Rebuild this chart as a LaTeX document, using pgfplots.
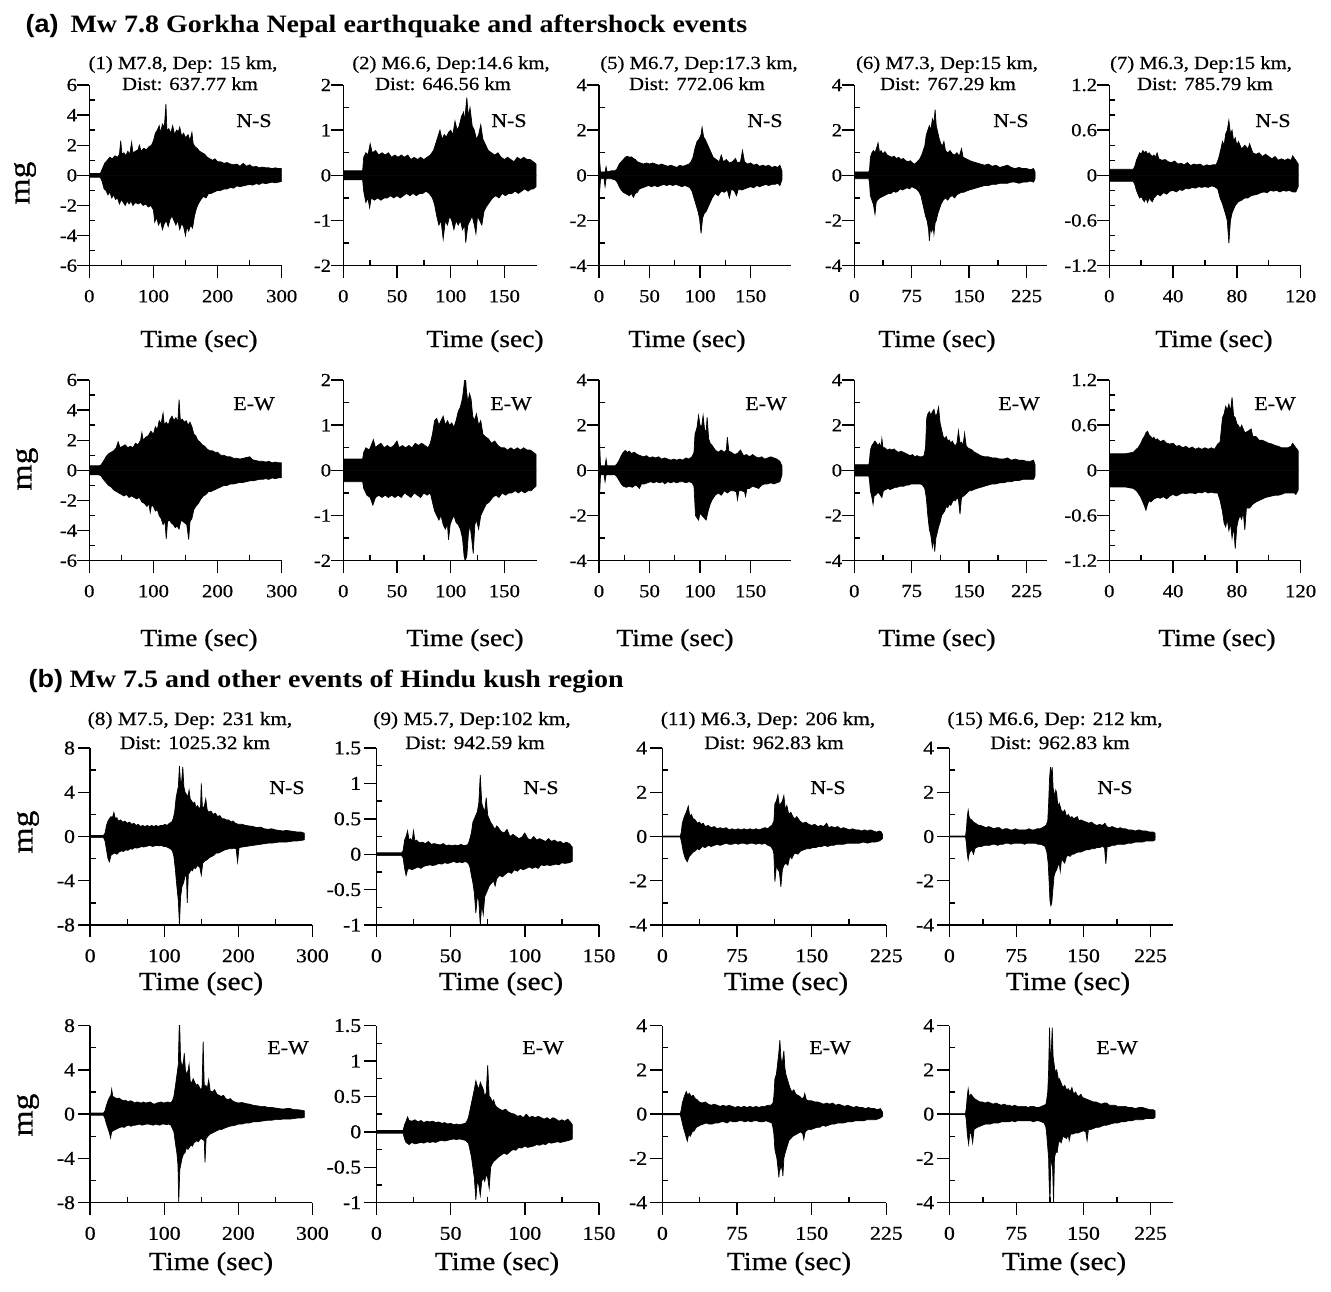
\documentclass[border=0pt]{standalone}
\usepackage{fontspec}
\setmainfont{Liberation Serif}[FakeStretch=1.12, UprightFeatures={FakeBold=0.6}]
\newfontfamily\labfont{Liberation Sans}[FakeStretch=1.08]
\usepackage{pgfplots}
\pgfplotsset{compat=1.18}

\newcommand\fs[1]{\fontsize{#1}{#1}\selectfont}

\pgfplotsset{
  seis/.style={
    scale only axis, anchor=south west,
    axis lines=left,
    axis line style={-, line width=1.4pt},
    every inner x axis line/.append style={-},
    every inner y axis line/.append style={-},
    every outer x axis line/.append style={-},
    every outer y axis line/.append style={-},
    tick style={line width=1.4pt, black},
    tick align=outside,
    major tick length=12pt,
    minor tick length=-6pt,
    minor x tick num=1, minor y tick num=1,
    xticklabel style={inner sep=0pt, yshift=-12pt},
  },
  seisA/.style={seis, height=180.7pt, ticklabel style={font=\fs{18.5}},
    yticklabel style={inner sep=0pt, xshift=0pt}},
  seisB/.style={seis, height=177pt, ticklabel style={font=\fs{19.5}},
    yticklabel style={inner sep=0pt, xshift=-3pt}},
  wave/.style={fill=black, draw=black, line width=0.7pt, line join=miter},
}

\begin{document}
\begin{tikzpicture}
\useasboundingbox (0,0) rectangle (1331pt,-1291pt);

% ---------------- (a) Gorkha, N-S ----------------
\begin{axis}[seisA, at={(89.3pt,-265.7pt)}, width=192.4pt, xmin=0, xmax=300, ymin=-6, ymax=6,
  xtick={0,100,200,300}, xticklabels={0,100,200,300},
  ytick={-6,-4,-2,0,2,4,6}, yticklabels={-6,-4,-2,0,2,4,6}]
\addplot[wave] coordinates {(0,0.12) (17,0.12) (20,0.4) (24,0.8) (28,1.0) (32,1.2) (36,1.1) (40,1.3) (44,1.2) (47,1.4) (49,2.3) (51,1.4) (54,1.5) (57,1.3) (60,1.6) (63,1.4) (66,2.2) (68,1.5) (72,1.6) (76,1.7) (78,2.0) (81,1.6) (85,1.8) (89,1.7) (93,1.9) (97,2.0) (100,2.3) (103,2.8) (106,3.0) (109,3.3) (111,2.8) (114,3.4) (117,3.2) (119.5,4.75) (121,3.0) (124,3.1) (127,2.8) (130,3.3) (133,2.7) (136,3.0) (139,2.9) (141,3.2) (144,2.6) (147,2.8) (150,2.5) (154,2.7) (157,2.3) (160,2.85) (162,2.1) (165,1.9) (168,1.8) (172,1.6) (176,1.5) (180,1.4) (184,1.2) (188,1.1) (192,1.0) (196,1.1) (200,0.9) (205,0.9) (210,0.8) (215,0.85) (220,0.75) (225,0.7) (230,0.75) (235,0.6) (240,0.8) (245,0.6) (250,0.7) (255,0.55) (260,0.6) (265,0.5) (270,0.55) (275,0.5) (280,0.5) (285,0.45) (290,0.5) (295,0.45) (300,0.45)} \closedcycle;
\addplot[wave] coordinates {(0,-0.12) (17,-0.12) (20,-0.4) (23,-0.9) (26,-1.0) (29,-1.3) (32,-1.1) (35,-1.5) (38,-1.3) (41,-1.6) (44,-1.5) (47,-1.9) (50,-1.6) (53,-1.8) (56,-2.0) (59,-1.7) (62,-1.9) (65,-1.7) (68,-2.0) (72,-1.8) (76,-1.9) (80,-1.8) (84,-2.0) (88,-1.9) (92,-2.1) (96,-2.0) (100,-2.3) (102,-3.1) (105,-2.8) (108,-3.3) (111,-3.0) (114,-3.6) (117,-3.2) (120,-3.0) (123,-3.4) (126,-2.9) (129,-2.7) (132,-3.0) (135,-3.3) (138,-3.0) (141,-3.6) (144,-3.2) (147,-3.4) (150,-4.0) (152,-3.4) (155,-3.7) (158,-3.3) (161,-3.5) (164,-2.7) (167,-2.2) (170,-1.9) (174,-1.6) (178,-1.4) (182,-1.5) (186,-1.2) (190,-1.2) (195,-1.1) (200,-1.0) (205,-1.0) (210,-0.9) (215,-0.9) (220,-0.8) (225,-0.85) (230,-0.7) (235,-0.75) (240,-0.7) (245,-0.65) (250,-0.6) (255,-0.65) (260,-0.55) (265,-0.6) (270,-0.5) (275,-0.55) (280,-0.5) (285,-0.45) (290,-0.5) (295,-0.45) (300,-0.4)} \closedcycle;
\end{axis}

\begin{axis}[seisA, at={(343.3pt,-265.7pt)}, width=193.3pt, xmin=0, xmax=180, ymin=-2, ymax=2,
  xtick={0,50,100,150}, xticklabels={0,50,100,150},
  ytick={-2,-1,0,1,2}, yticklabels={-2,-1,0,1,2}]
\addplot[wave] coordinates {(0,0.1) (18,0.1) (19,0.4) (21,0.5) (23,0.45) (25,0.7) (27,0.5) (30,0.55) (33,0.45) (36,0.5) (39,0.45) (42,0.5) (45,0.4) (48,0.45) (51,0.4) (54,0.45) (57,0.4) (60,0.45) (63,0.35) (66,0.4) (69,0.35) (72,0.4) (75,0.35) (78,0.4) (81,0.45) (84,0.55) (86,0.7) (88,0.85) (90,1.0) (92,0.8) (94,0.9) (96,0.85) (98,0.95) (100,1.0) (102,0.9) (104,1.2) (106,1.0) (108,1.1) (110,1.3) (112,1.4) (113,1.2) (115,1.72) (116.5,1.3) (118,1.5) (120,1.1) (122,1.0) (124,0.8) (126,0.9) (128,1.12) (130,0.8) (132,0.7) (135,0.55) (138,0.5) (141,0.45) (144,0.5) (147,0.4) (150,0.35) (153,0.4) (156,0.35) (159,0.3) (162,0.4) (165,0.35) (168,0.4) (171,0.35) (174,0.35) (177,0.3) (179.5,0.25)} \closedcycle;
\addplot[wave] coordinates {(0,-0.1) (18,-0.1) (19,-0.35) (21,-0.6) (23,-0.5) (24.5,-0.72) (26,-0.5) (29,-0.55) (32,-0.5) (35,-0.55) (38,-0.5) (41,-0.5) (44,-0.45) (47,-0.5) (50,-0.45) (53,-0.5) (56,-0.45) (59,-0.4) (62,-0.45) (65,-0.4) (68,-0.45) (71,-0.4) (74,-0.4) (77,-0.35) (80,-0.4) (83,-0.5) (85,-0.65) (87,-0.9) (89,-1.1) (91,-1.0) (93,-1.41) (95,-1.0) (97,-1.1) (99,-0.9) (101,-1.0) (103,-1.2) (105,-1.0) (107,-1.1) (109,-1.0) (111,-1.2) (113,-1.1) (114,-1.49) (116,-1.1) (118,-1.0) (120,-0.9) (122,-1.1) (123.5,-1.29) (125,-0.9) (127,-1.0) (129,-1.1) (131,-0.8) (133,-0.7) (136,-0.6) (139,-0.5) (142,-0.45) (145,-0.5) (148,-0.4) (151,-0.45) (154,-0.4) (157,-0.4) (160,-0.35) (163,-0.4) (166,-0.35) (169,-0.3) (172,-0.35) (175,-0.3) (177,-0.3) (179.5,-0.25)} \closedcycle;
\end{axis}

\begin{axis}[seisA, at={(599pt,-265.7pt)}, width=192pt, xmin=0, xmax=190, ymin=-4, ymax=4,
  xtick={0,50,100,150}, xticklabels={0,50,100,150},
  ytick={-4,-2,0,2,4}, yticklabels={-4,-2,0,2,4}]
\addplot[wave] coordinates {(0,0.2) (0.5,0.73) (1.5,0.15) (6,0.15) (7,0.38) (8,0.15) (12,0.2) (16,0.2) (18,0.3) (20,0.5) (22,0.6) (24,0.7) (26,0.8) (28,0.85) (30,0.8) (32,0.82) (34,0.75) (36,0.7) (38,0.6) (41,0.55) (44,0.5) (47,0.55) (50,0.5) (53,0.55) (56,0.5) (59,0.45) (62,0.5) (65,0.45) (68,0.4) (71,0.45) (74,0.4) (77,0.35) (80,0.45) (83,0.4) (86,0.45) (89,0.5) (91,0.6) (93,0.8) (95,1.2) (97,1.5) (99,1.6) (101,1.8) (102,2.13) (103.5,1.7) (105,1.6) (107,1.4) (109,1.2) (111,1.0) (113,0.8) (116,0.7) (119,0.6) (121,0.9) (123,0.6) (126,0.7) (129,0.55) (132,0.6) (135,0.75) (137,0.55) (140,0.6) (142,1.1) (144,0.6) (147,0.5) (150,0.55) (153,0.45) (156,0.5) (159,0.4) (162,0.45) (165,0.4) (168,0.45) (171,0.35) (174,0.4) (177,0.35) (179,0.45) (181,0.2)} \closedcycle;
\addplot[wave] coordinates {(0,-0.2) (0.5,-0.8) (1.5,-0.15) (5,-0.15) (6,-0.5) (7,-0.15) (12,-0.15) (16,-0.2) (18,-0.3) (20,-0.5) (22,-0.65) (24,-0.75) (26,-0.8) (28,-0.85) (30,-0.9) (32,-0.8) (34,-0.97) (36,-0.8) (38,-0.75) (40,-0.6) (43,-0.55) (46,-0.5) (49,-0.45) (52,-0.5) (55,-0.45) (58,-0.5) (61,-0.45) (64,-0.4) (67,-0.45) (70,-0.4) (73,-0.45) (76,-0.4) (79,-0.45) (82,-0.5) (85,-0.45) (88,-0.5) (90,-0.55) (92,-0.7) (94,-1.0) (96,-1.3) (98,-1.6) (99.5,-1.9) (101,-2.57) (102.5,-1.9) (104,-1.7) (106,-1.6) (108,-1.4) (110,-1.2) (112,-1.0) (115,-0.8) (118,-0.9) (121,-0.7) (124,-0.75) (127,-0.65) (129,-1.0) (131,-0.6) (134,-0.7) (136,-0.9) (138,-0.6) (141,-0.65) (144,-0.6) (147,-0.55) (150,-0.5) (153,-0.55) (156,-0.45) (159,-0.5) (162,-0.45) (165,-0.4) (168,-0.45) (171,-0.4) (174,-0.4) (177,-0.35) (179,-0.45) (181,-0.2)} \closedcycle;
\end{axis}

\begin{axis}[seisA, at={(854.3pt,-265.7pt)}, width=193pt, xmin=0, xmax=252, ymin=-4, ymax=4,
  xtick={0,75,150,225}, xticklabels={0,75,150,225},
  ytick={-4,-2,0,2,4}, yticklabels={-4,-2,0,2,4}]
\addplot[wave] coordinates {(0,0.15) (19,0.15) (20,0.3) (21,0.8) (23,1.0) (25,1.1) (27,1.0) (29,1.2) (31,1.44) (33,1.0) (35,1.1) (37,0.95) (40,1.05) (43,0.9) (46,0.85) (49,0.8) (52,0.85) (55,0.75) (58,0.8) (61,0.7) (64,0.75) (67,0.65) (70,0.6) (73,0.65) (76,0.55) (79,0.5) (82,0.6) (85,0.7) (88,0.9) (90,1.1) (92,1.3) (94,1.8) (96,2.0) (98,2.2) (100,2.0) (102,2.5) (104,2.3) (105.5,2.91) (107,2.2) (109,1.9) (111,1.6) (113,1.4) (115,1.3) (117,1.5) (119,1.1) (122,1.0) (125,1.1) (128,0.95) (131,0.9) (134,1.0) (137,0.85) (140,1.18) (142,0.8) (145,0.75) (148,0.7) (151,0.65) (155,0.6) (160,0.55) (165,0.5) (170,0.45) (175,0.5) (180,0.4) (185,0.45) (190,0.35) (195,0.4) (200,0.45) (205,0.35) (210,0.3) (215,0.35) (220,0.3) (225,0.3) (230,0.25) (234,0.3) (236,0.15)} \closedcycle;
\addplot[wave] coordinates {(0,-0.15) (19,-0.15) (20,-0.4) (21,-0.9) (23,-1.1) (25,-1.3) (27,-1.72) (28.5,-1.2) (30,-1.1) (33,-1.0) (36,-0.95) (39,-0.9) (42,-0.85) (45,-0.8) (48,-0.8) (51,-0.7) (54,-0.75) (57,-0.7) (60,-0.6) (63,-0.65) (66,-0.6) (69,-0.55) (72,-0.6) (75,-0.5) (78,-0.55) (81,-0.6) (84,-0.7) (87,-0.9) (89,-1.2) (91,-1.5) (93,-1.8) (95,-2.0) (97,-2.4) (98,-2.9) (99.5,-2.3) (101,-2.5) (103,-2.3) (104,-2.6) (105.5,-2.1) (107,-2.0) (109,-1.7) (111,-1.5) (113,-1.3) (116,-1.1) (119,-1.0) (122,-1.1) (125,-0.95) (128,-0.9) (131,-1.0) (134,-0.85) (137,-0.8) (140,-0.75) (143,-0.75) (146,-0.7) (150,-0.65) (155,-0.6) (160,-0.55) (165,-0.5) (170,-0.45) (175,-0.45) (180,-0.4) (185,-0.4) (190,-0.35) (195,-0.35) (200,-0.35) (205,-0.3) (210,-0.3) (215,-0.35) (220,-0.3) (225,-0.3) (230,-0.25) (234,-0.3) (236,-0.15)} \closedcycle;
\end{axis}

\begin{axis}[seisA, at={(1109.3pt,-265.7pt)}, width=191.3pt, xmin=0, xmax=120, ymin=-1.2, ymax=1.2,
  minor y tick num=2,
  xtick={0,40,80,120}, xticklabels={0,40,80,120},
  ytick={-1.2,-0.6,0,0.6,1.2}, yticklabels={-1.2,-0.6,0,0.6,1.2}]
\addplot[wave] coordinates {(0,0.08) (15,0.08) (16,0.12) (17,0.2) (18,0.25) (19,0.3) (20,0.28) (21,0.33) (22,0.3) (23,0.32) (24,0.28) (25,0.3) (26,0.27) (27,0.25) (28,0.27) (29,0.24) (30,0.3) (31,0.22) (33,0.2) (35,0.21) (37,0.18) (39,0.17) (41,0.19) (43,0.15) (45,0.16) (47,0.14) (49,0.17) (51,0.13) (53,0.15) (55,0.14) (57,0.15) (59,0.12) (61,0.14) (63,0.13) (65,0.14) (67,0.14) (68.5,0.22) (70,0.35) (71,0.45) (72,0.4) (73,0.55) (74,0.6) (75,0.73) (76,0.55) (77,0.6) (78,0.45) (79,0.5) (80,0.4) (81,0.45) (83,0.35) (85,0.4) (87,0.35) (88,0.42) (90,0.3) (92,0.28) (94,0.3) (96,0.25) (98,0.28) (100,0.25) (102,0.22) (104,0.25) (106,0.2) (108,0.22) (110,0.2) (112,0.22) (114,0.2) (115,0.26) (117,0.2) (118.5,0.15)} \closedcycle;
\addplot[wave] coordinates {(0,-0.08) (15,-0.08) (16,-0.12) (17,-0.2) (18,-0.25) (19,-0.3) (20,-0.28) (21,-0.32) (22,-0.35) (23,-0.3) (24,-0.36) (25,-0.3) (26,-0.33) (27,-0.35) (28,-0.3) (29,-0.28) (30,-0.25) (32,-0.27) (34,-0.23) (36,-0.25) (38,-0.21) (40,-0.2) (42,-0.22) (44,-0.19) (46,-0.2) (48,-0.17) (50,-0.18) (52,-0.16) (54,-0.17) (56,-0.15) (58,-0.16) (60,-0.15) (62,-0.16) (64,-0.14) (66,-0.15) (68,-0.18) (69.5,-0.3) (71,-0.38) (72,-0.45) (73,-0.52) (74,-0.6) (75,-0.9) (76,-0.6) (77,-0.5) (78,-0.45) (79,-0.4) (81,-0.35) (83,-0.33) (85,-0.3) (87,-0.3) (89,-0.27) (91,-0.26) (93,-0.25) (95,-0.23) (97,-0.22) (99,-0.23) (101,-0.2) (103,-0.21) (105,-0.2) (107,-0.22) (109,-0.2) (111,-0.21) (113,-0.2) (115,-0.22) (117,-0.22) (118.5,-0.15)} \closedcycle;
\end{axis}

% ---------------- (a) Gorkha, E-W ----------------
\begin{axis}[seisA, at={(89.3pt,-560.7pt)}, width=192.4pt, xmin=0, xmax=300, ymin=-6, ymax=6,
  xtick={0,100,200,300}, xticklabels={0,100,200,300},
  ytick={-6,-4,-2,0,2,4,6}, yticklabels={-6,-4,-2,0,2,4,6}]
\addplot[wave] coordinates {(0,0.3) (15,0.3) (18,0.35) (22,0.6) (26,0.9) (30,1.1) (34,1.2) (38,1.3) (42,1.5) (45,1.9) (48,1.5) (52,1.6) (56,1.7) (60,1.5) (64,1.6) (68,1.5) (72,1.8) (76,1.7) (80,2.0) (82,2.5) (84,2.0) (88,2.2) (92,2.3) (96,2.6) (100,2.4) (103,2.9) (106,2.7) (109,3.3) (112,3.1) (115,3.8) (117,3.0) (120,3.2) (123,3.0) (126,3.4) (129,3.6) (132,3.3) (135,3.5) (138,3.2) (140,4.7) (142,3.3) (145,3.4) (148,3.2) (151,3.3) (154,3.0) (157,3.2) (160,2.9) (163,2.4) (166,2.3) (169,2.0) (172,1.9) (176,1.7) (180,1.6) (184,1.4) (188,1.3) (192,1.3) (196,1.2) (200,1.2) (205,1.0) (210,1.0) (215,0.9) (220,0.9) (225,0.8) (230,0.8) (235,0.75) (240,0.8) (245,0.85) (250,0.9) (255,0.7) (260,0.65) (265,0.6) (270,0.6) (275,0.55) (280,0.6) (285,0.5) (290,0.55) (295,0.5) (300,0.5)} \closedcycle;
\addplot[wave] coordinates {(0,-0.3) (15,-0.3) (18,-0.35) (22,-0.6) (26,-0.8) (30,-1.0) (34,-1.1) (38,-1.3) (42,-1.4) (46,-1.5) (50,-1.6) (54,-1.7) (58,-1.6) (62,-1.8) (66,-1.7) (70,-1.8) (74,-1.9) (78,-1.8) (82,-2.1) (86,-2.2) (90,-2.4) (93,-2.2) (95,-2.8) (97,-2.3) (100,-2.4) (103,-2.7) (106,-2.6) (109,-3.0) (112,-3.2) (115,-3.6) (118,-3.4) (120,-4.55) (122,-3.4) (125,-3.3) (128,-3.5) (131,-3.6) (134,-3.8) (137,-3.7) (140,-3.9) (143,-3.3) (146,-3.4) (149,-3.5) (152,-3.6) (155,-4.6) (157,-3.4) (160,-3.2) (163,-2.6) (166,-2.4) (170,-2.2) (174,-1.9) (178,-1.7) (182,-1.6) (186,-1.4) (190,-1.4) (195,-1.3) (200,-1.2) (205,-1.1) (210,-1.0) (215,-1.0) (220,-0.9) (225,-0.9) (230,-0.85) (235,-0.8) (240,-0.8) (245,-0.75) (250,-0.7) (255,-0.7) (260,-0.65) (265,-0.6) (270,-0.6) (275,-0.55) (280,-0.6) (285,-0.5) (290,-0.55) (295,-0.5) (300,-0.5)} \closedcycle;
\end{axis}

\begin{axis}[seisA, at={(343.3pt,-560.7pt)}, width=193.3pt, xmin=0, xmax=180, ymin=-2, ymax=2,
  xtick={0,50,100,150}, xticklabels={0,50,100,150},
  ytick={-2,-1,0,1,2}, yticklabels={-2,-1,0,1,2}]
\addplot[wave] coordinates {(0,0.25) (18,0.25) (19,0.4) (21,0.5) (24,0.45) (26,0.55) (28,0.68) (30,0.5) (32,0.55) (35,0.6) (38,0.5) (41,0.55) (44,0.5) (47,0.55) (50,0.65) (52,0.5) (55,0.55) (58,0.5) (61,0.55) (64,0.5) (67,0.6) (70,0.55) (73,0.6) (76,0.55) (79,0.5) (81,0.6) (83,0.8) (85,1.1) (87,1.15) (89,1.0) (91,1.1) (93,1.2) (95,1.0) (97,1.1) (99,1.0) (101,1.05) (103,0.95) (105,1.1) (107,1.3) (109,1.4) (111,1.6) (112.5,1.9) (113.5,2.25) (114.5,1.8) (116,1.5) (117.5,1.7) (119,1.58) (120.5,1.2) (122,1.1) (124,1.25) (126,1.0) (128,1.1) (130,0.8) (132,0.75) (135,0.7) (138,0.6) (141,0.65) (144,0.55) (147,0.5) (150,0.5) (153,0.45) (156,0.5) (159,0.45) (162,0.5) (165,0.45) (168,0.5) (171,0.45) (174,0.45) (177,0.4) (179.5,0.35)} \closedcycle;
\addplot[wave] coordinates {(0,-0.25) (18,-0.25) (19,-0.4) (22,-0.55) (25,-0.6) (27.5,-0.77) (30,-0.6) (33,-0.55) (36,-0.6) (39,-0.55) (42,-0.6) (45,-0.55) (48,-0.6) (51,-0.55) (54,-0.6) (57,-0.5) (60,-0.55) (63,-0.6) (66,-0.5) (69,-0.55) (72,-0.6) (75,-0.5) (78,-0.55) (81,-0.5) (83,-0.7) (85,-0.9) (87,-1.0) (89,-1.1) (91,-1.0) (93,-1.2) (95,-1.3) (97,-1.2) (98,-1.54) (99.5,-1.2) (101,-1.1) (103,-1.0) (105,-1.15) (107,-1.2) (109,-1.3) (111,-1.5) (112.5,-1.9) (113.5,-2.0) (115,-1.9) (116.5,-1.4) (118,-1.2) (119.5,-1.5) (121,-1.84) (122.5,-1.2) (124,-1.1) (126,-1.3) (128,-1.0) (130,-0.9) (133,-0.75) (136,-0.7) (139,-0.6) (142,-0.55) (145,-0.6) (148,-0.5) (151,-0.55) (154,-0.5) (157,-0.5) (160,-0.45) (163,-0.5) (166,-0.45) (169,-0.5) (172,-0.45) (175,-0.45) (177,-0.4) (179.5,-0.35)} \closedcycle;
\end{axis}

\begin{axis}[seisA, at={(599pt,-560.7pt)}, width=192pt, xmin=0, xmax=190, ymin=-4, ymax=4,
  xtick={0,50,100,150}, xticklabels={0,50,100,150},
  ytick={-4,-2,0,2,4}, yticklabels={-4,-2,0,2,4}]
\addplot[wave] coordinates {(0,0.2) (0.5,1.32) (1.5,0.2) (6,0.2) (7,0.5) (8,0.2) (12,0.2) (16,0.2) (18,0.3) (20,0.45) (22,0.65) (24,0.8) (26,0.88) (28,0.8) (30,0.85) (32,0.75) (35,0.8) (38,0.7) (41,0.65) (44,0.6) (47,0.65) (50,0.55) (53,0.6) (56,0.55) (59,0.6) (62,0.5) (65,0.55) (68,0.5) (71,0.45) (74,0.5) (77,0.45) (80,0.5) (83,0.45) (86,0.55) (89,0.5) (92,0.6) (94,0.8) (95,1.6) (97,1.9) (98.5,2.43) (100,2.0) (101.5,1.9) (103,2.43) (104.5,1.8) (106,1.7) (107,2.35) (108.5,1.4) (110,1.2) (112,1.1) (115,0.9) (118,0.8) (121,0.9) (124,0.8) (126,0.9) (127,1.47) (128.5,0.85) (131,0.8) (134,0.7) (137,0.75) (140,0.9) (143,0.65) (146,0.7) (149,0.6) (152,0.7) (155,0.6) (158,0.55) (161,0.6) (164,0.5) (167,0.55) (170,0.6) (173,0.55) (176,0.5) (179,0.4) (181,0.2)} \closedcycle;
\addplot[wave] coordinates {(0,-0.2) (0.5,-1.2) (1.5,-0.2) (5,-0.2) (6,-0.5) (7,-0.2) (12,-0.2) (16,-0.2) (18,-0.3) (20,-0.45) (22,-0.6) (24,-0.7) (27,-0.75) (30,-0.7) (33,-0.75) (36,-0.65) (38,-0.7) (40,-0.8) (42,-0.6) (45,-0.6) (48,-0.55) (51,-0.5) (54,-0.55) (57,-0.5) (60,-0.55) (63,-0.5) (65,-0.6) (68,-0.5) (71,-0.55) (74,-0.5) (77,-0.55) (80,-0.5) (83,-0.5) (86,-0.55) (89,-0.5) (92,-0.55) (94,-0.7) (95.5,-2.0) (97,-2.1) (98.5,-2.2) (100,-1.9) (102,-2.0) (104,-2.1) (106,-2.2) (108,-1.8) (110,-1.5) (112,-1.3) (115,-1.1) (118,-1.0) (121,-1.1) (124,-0.9) (127,-1.0) (130,-0.9) (133,-0.9) (136,-0.95) (137,-1.3) (138.5,-0.9) (141,-0.9) (144,-0.95) (145,-1.15) (146.5,-0.8) (149,-0.8) (152,-0.7) (155,-0.75) (158,-0.8) (161,-0.65) (164,-0.6) (167,-0.6) (170,-0.55) (173,-0.6) (176,-0.55) (179,-0.5) (181,-0.2)} \closedcycle;
\end{axis}

\begin{axis}[seisA, at={(854.3pt,-560.7pt)}, width=193pt, xmin=0, xmax=252, ymin=-4, ymax=4,
  xtick={0,75,150,225}, xticklabels={0,75,150,225},
  ytick={-4,-2,0,2,4}, yticklabels={-4,-2,0,2,4}]
\addplot[wave] coordinates {(0,0.25) (19,0.25) (20,0.5) (21,0.9) (23,1.1) (25,1.2) (27,1.3) (29,1.2) (31,1.1) (33,1.2) (35,1.0) (36,1.4) (37.5,1.0) (40,1.0) (43,0.9) (46,0.95) (49,0.9) (52,0.95) (55,0.85) (58,0.8) (61,0.85) (64,0.8) (67,0.75) (70,0.7) (73,0.65) (76,0.7) (79,0.6) (82,0.65) (85,0.6) (88,0.6) (91,0.65) (93,1.0) (94.5,2.3) (96,2.5) (98,2.6) (100,2.45) (102,2.6) (104,2.7) (106,2.4) (108,2.5) (110,2.8) (112,2.1) (114,1.8) (116,1.5) (118,1.4) (120,1.5) (122,1.3) (124,1.35) (126,1.2) (128,1.3) (130,1.15) (132,1.1) (134,1.2) (136,1.75) (138,1.2) (140,1.25) (142,1.1) (144,1.65) (146,1.1) (148,1.0) (151,0.95) (154,0.9) (157,0.8) (160,0.75) (165,0.65) (170,0.6) (175,0.6) (180,0.55) (185,0.55) (190,0.5) (195,0.5) (200,0.55) (205,0.45) (210,0.5) (215,0.45) (220,0.45) (225,0.4) (230,0.4) (234,0.45) (236,0.25)} \closedcycle;
\addplot[wave] coordinates {(0,-0.25) (19,-0.25) (20,-0.5) (21,-0.9) (23,-1.2) (24.5,-1.5) (26,-1.1) (28,-1.1) (30,-1.0) (32,-1.0) (34,-1.1) (36,-1.2) (38,-0.9) (41,-0.85) (44,-0.8) (47,-0.85) (50,-0.8) (53,-0.75) (56,-0.75) (59,-0.7) (62,-0.7) (65,-0.7) (68,-0.65) (71,-0.65) (74,-0.6) (77,-0.6) (80,-0.6) (83,-0.6) (86,-0.6) (89,-0.65) (92,-0.8) (94,-1.2) (96,-2.0) (98,-2.6) (100,-2.9) (102,-3.4) (103.5,-3.0) (105,-3.6) (106.5,-3.0) (108,-2.8) (110,-2.5) (112,-2.3) (114,-2.0) (116,-1.9) (118,-1.8) (120,-1.6) (122,-1.65) (124,-1.5) (126,-1.55) (128,-1.4) (130,-1.3) (132,-1.35) (134,-1.2) (136,-1.3) (138,-1.94) (140,-1.2) (142,-1.15) (144,-1.1) (147,-1.0) (150,-0.9) (153,-0.9) (156,-0.85) (160,-0.8) (165,-0.75) (170,-0.7) (175,-0.65) (180,-0.6) (185,-0.6) (190,-0.55) (195,-0.55) (200,-0.5) (205,-0.5) (210,-0.45) (215,-0.45) (220,-0.4) (225,-0.4) (230,-0.4) (234,-0.4) (236,-0.25)} \closedcycle;
\end{axis}

\begin{axis}[seisA, at={(1109.3pt,-560.7pt)}, width=191.3pt, xmin=0, xmax=120, ymin=-1.2, ymax=1.2,
  minor y tick num=2,
  xtick={0,40,80,120}, xticklabels={0,40,80,120},
  ytick={-1.2,-0.6,0,0.6,1.2}, yticklabels={-1.2,-0.6,0,0.6,1.2}]
\addplot[wave] coordinates {(0,0.22) (10,0.22) (15,0.24) (17,0.28) (18,0.3) (19,0.33) (20,0.37) (21,0.42) (22,0.45) (23,0.5) (24,0.52) (25,0.47) (26,0.45) (27,0.42) (28,0.44) (29,0.4) (30,0.42) (32,0.38) (34,0.4) (36,0.36) (38,0.35) (40,0.36) (42,0.32) (44,0.33) (46,0.3) (48,0.32) (50,0.29) (52,0.31) (54,0.28) (56,0.3) (58,0.28) (60,0.3) (62,0.28) (64,0.3) (66,0.28) (68,0.35) (69.5,0.38) (71,0.7) (72,0.75) (73,0.85) (74,0.8) (75,0.88) (76,0.78) (77,0.97) (78,0.72) (79,0.7) (80,0.62) (81,0.6) (82,0.55) (83,0.6) (85,0.5) (87,0.52) (89,0.55) (90,0.45) (92,0.45) (94,0.4) (96,0.4) (98,0.38) (100,0.36) (102,0.35) (104,0.33) (106,0.32) (108,0.3) (110,0.3) (112,0.3) (114,0.32) (115,0.36) (117,0.3) (118.5,0.26)} \closedcycle;
\addplot[wave] coordinates {(0,-0.22) (10,-0.22) (15,-0.24) (17,-0.27) (18,-0.3) (19,-0.33) (20,-0.37) (21,-0.42) (22,-0.47) (23,-0.53) (24,-0.45) (25,-0.4) (26,-0.42) (28,-0.38) (30,-0.36) (32,-0.37) (34,-0.35) (36,-0.38) (38,-0.34) (40,-0.32) (42,-0.34) (44,-0.32) (46,-0.3) (48,-0.31) (50,-0.3) (52,-0.3) (54,-0.31) (56,-0.29) (58,-0.3) (60,-0.28) (62,-0.3) (64,-0.29) (66,-0.3) (68,-0.3) (69.5,-0.4) (71,-0.55) (72,-0.7) (73,-0.75) (74,-0.65) (75,-0.8) (76,-0.7) (77,-0.9) (78,-0.75) (79,-1.04) (80,-0.75) (81,-0.65) (82,-0.6) (83,-0.65) (84,-0.55) (85,-0.79) (86,-0.5) (88,-0.5) (90,-0.45) (92,-0.42) (94,-0.4) (96,-0.38) (98,-0.36) (100,-0.35) (102,-0.34) (104,-0.33) (106,-0.33) (108,-0.32) (110,-0.3) (112,-0.3) (114,-0.3) (116,-0.3) (117,-0.32) (118.5,-0.26)} \closedcycle;
\end{axis}

% ---------------- (b) Hindu Kush, N-S ----------------
\begin{axis}[seisB, at={(90.2pt,-925pt)}, width=222.2pt, xmin=0, xmax=300, ymin=-8, ymax=8,
  xtick={0,100,200,300}, xticklabels={0,100,200,300},
  ytick={-8,-4,0,4,8}, yticklabels={-8,-4,0,4,8}]
\addplot[wave] coordinates {(0,0.1) (18,0.1) (20,0.3) (22,1.0) (24,1.4) (26,1.6) (28,1.8) (30,1.7) (32,2.18) (34,1.6) (36,1.7) (38,1.4) (41,1.5) (44,1.3) (47,1.4) (50,1.2) (53,1.3) (56,1.1) (59,1.2) (62,1.0) (65,1.1) (68,0.9) (71,1.0) (74,0.9) (77,1.0) (80,0.9) (83,1.0) (86,0.9) (89,1.0) (92,0.9) (95,1.0) (98,1.0) (101,1.1) (104,1.0) (107,1.2) (110,1.3) (112,1.6) (114,2.2) (116,3.5) (118,4.2) (119,4.5) (120.5,6.36) (122,4.8) (123.5,5.0) (125,6.3) (126.5,4.5) (128,4.0) (130,3.8) (132,3.6) (133.5,4.2) (135,3.4) (137,3.2) (139,3.0) (141,3.1) (143,2.6) (145,2.8) (147,2.5) (149,2.7) (150,4.8) (151.5,2.6) (154,2.7) (156,3.4) (158,2.4) (160,2.2) (163,2.3) (166,2.0) (169,2.1) (172,1.8) (175,1.9) (178,1.6) (181,1.6) (184,1.5) (187,1.5) (190,1.3) (193,1.4) (196,1.2) (200,1.1) (205,1.1) (210,1.0) (215,0.95) (220,0.9) (225,0.8) (230,0.85) (235,0.7) (240,0.65) (245,0.7) (250,0.6) (255,0.55) (260,0.5) (265,0.55) (270,0.5) (275,0.45) (280,0.4) (285,0.4) (289,0.3)} \closedcycle;
\addplot[wave] coordinates {(0,-0.1) (18,-0.1) (20,-0.4) (22,-1.2) (24,-2.0) (26,-2.28) (28,-1.7) (30,-1.6) (33,-1.5) (36,-1.6) (39,-1.4) (42,-1.3) (45,-1.35) (48,-1.2) (51,-1.25) (54,-1.1) (57,-1.15) (60,-1.0) (63,-1.05) (66,-1.0) (69,-0.9) (72,-0.95) (75,-0.9) (78,-0.85) (81,-0.8) (84,-0.9) (87,-0.85) (90,-0.8) (93,-0.85) (96,-0.8) (99,-0.9) (102,-0.9) (105,-1.0) (108,-1.1) (111,-1.3) (113,-1.8) (115,-3.0) (117,-4.5) (119,-5.8) (120.5,-8.0) (122,-5.5) (124,-4.5) (126,-4.2) (128,-3.6) (130,-3.5) (131,-6.0) (132.5,-3.4) (134,-3.3) (136,-3.0) (138,-3.1) (140,-2.8) (142,-2.9) (145,-2.6) (148,-2.8) (150,-3.5) (152,-2.4) (155,-2.2) (158,-2.1) (161,-1.9) (164,-1.8) (167,-1.7) (170,-1.5) (173,-1.5) (176,-1.4) (179,-1.3) (182,-1.2) (185,-1.15) (188,-1.1) (191,-1.1) (194,-1.05) (197,-1.1) (199,-2.3) (201,-1.0) (205,-0.95) (210,-0.9) (215,-0.85) (220,-0.8) (225,-0.75) (230,-0.7) (235,-0.65) (240,-0.6) (245,-0.6) (250,-0.55) (255,-0.5) (260,-0.5) (265,-0.5) (270,-0.45) (275,-0.4) (280,-0.4) (285,-0.35) (289,-0.3)} \closedcycle;
\end{axis}

\begin{axis}[seisB, at={(376.4pt,-925pt)}, width=222.6pt, xmin=0, xmax=150, ymin=-1, ymax=1.5,
  xtick={0,50,100,150}, xticklabels={0,50,100,150},
  ytick={-1,-0.5,0,0.5,1,1.5}, yticklabels={-1,-0.5,0,0.5,1,1.5}]
\addplot[wave] coordinates {(0,0.02) (17,0.02) (18,0.05) (19,0.2) (20,0.25) (21,0.33) (22,0.2) (23,0.22) (24,0.18) (25,0.33) (26,0.18) (27,0.2) (29,0.16) (31,0.17) (33,0.15) (35,0.18) (37,0.14) (39,0.15) (41,0.14) (43,0.13) (45,0.15) (47,0.12) (49,0.13) (51,0.12) (53,0.13) (55,0.12) (57,0.14) (59,0.12) (61,0.13) (62,0.15) (63,0.22) (64,0.3) (65,0.45) (66,0.5) (67,0.55) (68,0.6) (69,0.72) (70,1.12) (71,0.72) (72,0.65) (73,0.6) (74,0.8) (75,0.55) (76,0.5) (77,0.45) (78,0.42) (79,0.38) (80,0.35) (81,0.4) (82,0.38) (84,0.32) (86,0.3) (88,0.35) (90,0.25) (92,0.28) (94,0.25) (96,0.22) (98,0.24) (100,0.3) (102,0.22) (104,0.2) (106,0.25) (108,0.2) (110,0.22) (112,0.2) (114,0.18) (116,0.22) (118,0.18) (120,0.2) (122,0.17) (124,0.18) (126,0.15) (128,0.17) (130,0.15) (132,0.1)} \closedcycle;
\addplot[wave] coordinates {(0,-0.02) (17,-0.02) (18,-0.05) (19,-0.2) (20,-0.3) (21,-0.22) (22,-0.2) (24,-0.22) (26,-0.2) (28,-0.18) (30,-0.2) (32,-0.17) (34,-0.16) (36,-0.15) (38,-0.16) (40,-0.15) (42,-0.13) (44,-0.14) (46,-0.12) (48,-0.13) (50,-0.12) (52,-0.1) (54,-0.12) (56,-0.11) (58,-0.12) (60,-0.1) (62,-0.13) (63,-0.18) (64,-0.3) (65,-0.4) (66,-0.55) (67,-0.83) (68,-0.6) (69,-0.65) (70,-1.0) (71,-0.7) (72,-0.85) (73,-0.6) (74,-0.55) (75,-0.5) (76,-0.45) (77,-0.42) (78,-0.4) (79,-0.38) (80,-0.45) (81,-0.35) (83,-0.3) (85,-0.32) (87,-0.28) (89,-0.25) (91,-0.27) (93,-0.22) (95,-0.24) (97,-0.2) (99,-0.22) (101,-0.2) (103,-0.18) (105,-0.2) (107,-0.18) (109,-0.2) (111,-0.15) (113,-0.16) (115,-0.15) (117,-0.16) (119,-0.15) (121,-0.14) (123,-0.15) (125,-0.12) (127,-0.13) (130,-0.12) (132,-0.1)} \closedcycle;
\end{axis}

\begin{axis}[seisB, at={(662.4pt,-925pt)}, width=224pt, xmin=0, xmax=225, ymin=-4, ymax=4,
  xtick={0,75,150,225}, xticklabels={0,75,150,225},
  ytick={-4,-2,0,2,4}, yticklabels={-4,-2,0,2,4}]
\addplot[wave] coordinates {(0,0.02) (18,0.02) (19,0.2) (20,0.6) (22,0.9) (24,1.1) (26,1.37) (27.5,0.9) (29,1.0) (31,0.8) (33,0.75) (35,0.6) (37,0.65) (39,0.55) (41,0.6) (43,0.45) (46,0.5) (49,0.4) (52,0.45) (55,0.35) (58,0.4) (61,0.35) (64,0.4) (67,0.3) (70,0.35) (73,0.3) (76,0.35) (79,0.3) (82,0.35) (85,0.3) (88,0.35) (91,0.3) (94,0.35) (97,0.3) (100,0.35) (103,0.4) (106,0.35) (108,0.45) (110,0.5) (112,0.7) (113,1.5) (114.5,1.6) (116,1.89) (117.5,1.4) (119,1.5) (120.5,1.6) (122,1.85) (123.5,1.2) (125,1.4) (127,1.0) (129,1.1) (131,0.9) (133,0.8) (135,0.9) (138,0.7) (141,0.6) (144,0.65) (147,0.55) (150,0.5) (153,0.55) (156,0.45) (159,0.5) (162,0.45) (165,0.6) (167,0.4) (170,0.45) (173,0.4) (176,0.45) (179,0.35) (182,0.4) (185,0.35) (188,0.3) (191,0.35) (194,0.3) (197,0.3) (200,0.25) (203,0.3) (206,0.25) (209,0.3) (212,0.25) (215,0.2) (218,0.25) (220,0.2) (221,0.1)} \closedcycle;
\addplot[wave] coordinates {(0,-0.02) (18,-0.02) (19,-0.2) (21,-0.7) (23,-1.0) (25,-1.14) (27,-0.9) (29,-0.8) (31,-0.7) (33,-0.65) (35,-0.55) (37,-0.6) (40,-0.45) (43,-0.5) (46,-0.4) (49,-0.45) (52,-0.4) (55,-0.35) (58,-0.4) (61,-0.35) (64,-0.3) (67,-0.35) (70,-0.35) (73,-0.3) (76,-0.35) (79,-0.3) (82,-0.3) (85,-0.35) (88,-0.3) (91,-0.3) (94,-0.35) (97,-0.3) (100,-0.35) (103,-0.3) (106,-0.4) (109,-0.45) (111,-0.6) (112,-0.8) (113,-2.04) (114.5,-1.3) (116,-1.5) (117.5,-1.6) (119,-2.27) (120.5,-1.5) (122,-1.3) (124,-1.2) (126,-1.3) (128,-0.9) (130,-1.0) (132,-0.8) (134,-0.75) (136,-0.8) (139,-0.65) (142,-0.6) (145,-0.55) (148,-0.55) (151,-0.5) (154,-0.5) (157,-0.45) (160,-0.45) (163,-0.4) (166,-0.45) (169,-0.4) (172,-0.4) (175,-0.35) (178,-0.35) (182,-0.35) (186,-0.3) (190,-0.3) (194,-0.3) (198,-0.3) (202,-0.25) (206,-0.3) (210,-0.25) (214,-0.25) (218,-0.2) (221,-0.1)} \closedcycle;
\end{axis}

\begin{axis}[seisB, at={(949.4pt,-925pt)}, width=223.5pt, xmin=0, xmax=250, ymin=-4, ymax=4,
  xtick={0,75,150,225}, xticklabels={0,75,150,225},
  ytick={-4,-2,0,2,4}, yticklabels={-4,-2,0,2,4}]
\addplot[wave] coordinates {(0,0.02) (18,0.02) (19,0.3) (20,0.9) (21,1.19) (22,0.9) (23,0.8) (25,0.75) (27,0.65) (29,0.6) (31,0.55) (33,0.5) (35,0.5) (38,0.45) (41,0.4) (44,0.45) (47,0.4) (50,0.35) (53,0.4) (56,0.4) (59,0.3) (62,0.35) (65,0.35) (68,0.3) (71,0.3) (74,0.35) (77,0.3) (80,0.3) (83,0.3) (86,0.3) (89,0.35) (92,0.3) (95,0.3) (98,0.35) (101,0.35) (104,0.4) (106,0.45) (108,0.5) (110,0.7) (111,1.5) (112,2.6) (113,3.13) (114,2.8) (115,3.13) (116,2.2) (117,2.0) (118,1.8) (119,2.1) (120,1.97) (121,1.5) (122,1.4) (123,1.5) (125,1.2) (127,1.1) (129,1.2) (131,0.9) (133,1.0) (135,0.85) (137,0.9) (139,0.8) (141,0.85) (143,0.9) (145,0.7) (147,0.75) (150,0.7) (153,0.65) (156,0.6) (159,0.65) (162,0.55) (165,0.5) (168,0.55) (171,0.5) (174,0.6) (176,0.45) (179,0.4) (182,0.45) (185,0.4) (188,0.35) (191,0.4) (194,0.35) (197,0.35) (200,0.3) (204,0.3) (208,0.25) (212,0.3) (216,0.25) (220,0.25) (224,0.2) (228,0.2) (230,0.15)} \closedcycle;
\addplot[wave] coordinates {(0,-0.02) (18,-0.02) (19,-0.3) (20,-0.8) (21,-1.06) (22,-0.8) (23,-0.7) (25,-0.6) (27,-0.8) (28.5,-0.55) (30,-0.5) (33,-0.45) (36,-0.45) (39,-0.4) (42,-0.4) (45,-0.4) (48,-0.35) (51,-0.35) (54,-0.4) (57,-0.35) (60,-0.35) (63,-0.3) (66,-0.3) (69,-0.35) (72,-0.3) (75,-0.3) (78,-0.3) (81,-0.3) (84,-0.35) (87,-0.3) (90,-0.3) (93,-0.3) (96,-0.3) (99,-0.35) (102,-0.35) (105,-0.4) (107,-0.45) (109,-0.7) (110.5,-1.2) (111.5,-2.0) (112.5,-2.9) (113.5,-3.13) (114.5,-3.0) (115.5,-2.5) (117,-1.8) (118.5,-1.6) (120,-1.5) (121.5,-1.3) (123,-1.25) (124,-1.58) (125.5,-1.0) (127,-1.1) (129,-1.2) (131,-0.9) (133,-0.85) (135,-0.9) (137,-0.8) (139,-0.8) (141,-0.75) (144,-0.7) (147,-0.7) (150,-0.65) (153,-0.6) (156,-0.6) (159,-0.55) (162,-0.55) (165,-0.5) (168,-0.5) (171,-0.45) (173.5,-0.5) (175,-1.23) (176.5,-0.45) (179,-0.45) (182,-0.4) (185,-0.4) (188,-0.35) (192,-0.35) (196,-0.35) (200,-0.3) (204,-0.3) (208,-0.25) (212,-0.25) (216,-0.25) (220,-0.2) (224,-0.2) (228,-0.2) (230,-0.15)} \closedcycle;
\end{axis}

% ---------------- (b) Hindu Kush, E-W ----------------
\begin{axis}[seisB, at={(90.2pt,-1202.6pt)}, width=222.2pt, xmin=0, xmax=300, ymin=-8, ymax=8,
  xtick={0,100,200,300}, xticklabels={0,100,200,300},
  ytick={-8,-4,0,4,8}, yticklabels={-8,-4,0,4,8}]
\addplot[wave] coordinates {(0,0.1) (18,0.1) (20,0.3) (22,0.8) (24,1.2) (26,1.5) (28,1.7) (29,2.25) (30.5,1.6) (33,1.5) (36,1.4) (39,1.45) (42,1.3) (45,1.2) (48,1.25) (51,1.1) (54,1.2) (57,1.15) (60,1.0) (63,1.1) (66,1.05) (69,1.0) (72,1.1) (75,1.0) (78,1.05) (81,1.1) (84,0.95) (87,0.9) (90,1.0) (93,1.05) (96,1.1) (99,1.0) (102,1.05) (105,1.1) (108,1.0) (111,1.2) (113,1.6) (115,2.5) (117,3.5) (119,4.5) (120.5,8.96) (122,5.0) (124,4.2) (126,4.8) (127,5.5) (128.5,4.0) (130,3.6) (132,3.9) (133.5,4.5) (135,3.0) (137,2.8) (139,3.2) (141,2.9) (143,2.6) (145,2.7) (147,2.5) (149,2.2) (151,2.4) (152.5,6.56) (154,2.5) (156,2.6) (158,2.3) (160,3.1) (162,2.1) (165,2.0) (168,2.2) (171,1.8) (174,1.7) (177,1.6) (180,1.7) (183,1.4) (186,1.3) (189,1.4) (192,1.2) (195,1.1) (200,1.0) (205,1.05) (210,0.95) (215,0.9) (220,0.8) (225,0.75) (230,0.7) (235,0.7) (240,0.6) (245,0.6) (250,0.55) (255,0.5) (260,0.45) (265,0.5) (270,0.5) (275,0.4) (280,0.4) (285,0.35) (289,0.3)} \closedcycle;
\addplot[wave] coordinates {(0,-0.1) (18,-0.1) (20,-0.4) (22,-0.9) (24,-1.3) (26,-1.7) (27.5,-2.15) (29,-1.6) (31,-1.5) (34,-1.4) (37,-1.3) (40,-1.2) (43,-1.15) (46,-1.2) (49,-1.05) (52,-1.0) (55,-1.1) (58,-1.0) (61,-1.0) (64,-0.95) (67,-0.9) (70,-1.0) (73,-0.95) (76,-0.9) (79,-0.9) (82,-0.95) (85,-1.0) (88,-0.9) (91,-0.95) (94,-1.0) (97,-0.9) (100,-0.9) (103,-0.95) (106,-0.9) (109,-1.0) (111,-1.3) (113,-1.6) (115,-2.6) (117,-3.5) (118.5,-4.6) (119.5,-8.0) (121,-5.0) (122.5,-4.5) (124,-4.0) (126,-3.6) (128,-3.5) (130,-3.0) (132,-3.2) (134,-3.0) (136,-2.8) (138,-2.9) (140,-2.6) (142,-2.5) (144,-2.4) (146,-2.5) (148,-2.3) (150,-2.2) (152,-2.3) (154,-2.4) (155,-4.36) (156.5,-2.2) (159,-2.0) (162,-1.8) (165,-1.7) (168,-1.6) (171,-1.5) (174,-1.4) (177,-1.4) (180,-1.3) (184,-1.2) (188,-1.1) (192,-1.05) (196,-1.0) (200,-0.9) (205,-0.9) (210,-0.8) (215,-0.8) (220,-0.7) (225,-0.7) (230,-0.65) (235,-0.6) (240,-0.55) (245,-0.55) (250,-0.5) (255,-0.5) (260,-0.45) (265,-0.45) (270,-0.45) (275,-0.4) (280,-0.35) (285,-0.35) (289,-0.3)} \closedcycle;
\end{axis}

\begin{axis}[seisB, at={(376.4pt,-1202.6pt)}, width=222.6pt, xmin=0, xmax=150, ymin=-1, ymax=1.5,
  xtick={0,50,100,150}, xticklabels={0,50,100,150},
  ytick={-1,-0.5,0,0.5,1,1.5}, yticklabels={-1,-0.5,0,0.5,1,1.5}]
\addplot[wave] coordinates {(0,0.02) (18,0.02) (19,0.1) (20,0.15) (21,0.21) (22,0.16) (24,0.15) (26,0.17) (28,0.14) (30,0.16) (32,0.13) (34,0.15) (36,0.14) (38,0.15) (40,0.13) (42,0.14) (44,0.12) (46,0.13) (48,0.11) (50,0.12) (52,0.1) (54,0.11) (56,0.1) (58,0.11) (60,0.12) (61,0.15) (62,0.2) (63,0.3) (64,0.4) (65,0.5) (66,0.6) (67,0.72) (68,0.65) (69,0.6) (70,0.7) (71,0.65) (72,0.6) (73,0.5) (74,0.55) (75,0.94) (76,0.5) (77,0.48) (78,0.42) (79,0.45) (80,0.38) (81,0.35) (83,0.32) (85,0.3) (87,0.32) (89,0.28) (91,0.26) (93,0.25) (95,0.22) (97,0.23) (99,0.2) (101,0.25) (103,0.2) (105,0.22) (107,0.2) (109,0.22) (111,0.2) (113,0.18) (115,0.2) (117,0.17) (119,0.2) (121,0.18) (123,0.15) (125,0.17) (127,0.15) (129,0.18) (131,0.13) (132,0.1)} \closedcycle;
\addplot[wave] coordinates {(0,-0.02) (18,-0.02) (19,-0.1) (20,-0.15) (22,-0.18) (24,-0.15) (26,-0.17) (28,-0.16) (30,-0.15) (32,-0.16) (34,-0.14) (36,-0.15) (38,-0.14) (40,-0.15) (42,-0.13) (44,-0.12) (46,-0.13) (48,-0.12) (50,-0.11) (52,-0.1) (54,-0.11) (56,-0.1) (58,-0.11) (60,-0.12) (62,-0.16) (63,-0.25) (64,-0.35) (65,-0.5) (66,-0.65) (67,-0.96) (68,-0.7) (69,-0.75) (70,-0.9) (71,-0.7) (72,-0.65) (73,-0.7) (74,-0.6) (75,-0.65) (76,-0.8) (77,-0.5) (78,-0.45) (79,-0.42) (80,-0.4) (82,-0.36) (84,-0.33) (86,-0.3) (88,-0.32) (90,-0.28) (92,-0.25) (94,-0.26) (96,-0.22) (98,-0.23) (100,-0.2) (102,-0.22) (104,-0.21) (106,-0.2) (108,-0.18) (110,-0.19) (112,-0.17) (114,-0.18) (116,-0.15) (118,-0.16) (120,-0.15) (122,-0.14) (124,-0.15) (126,-0.14) (128,-0.13) (130,-0.12) (132,-0.1)} \closedcycle;
\end{axis}

\begin{axis}[seisB, at={(662.4pt,-1202.6pt)}, width=224pt, xmin=0, xmax=225, ymin=-4, ymax=4,
  xtick={0,75,150,225}, xticklabels={0,75,150,225},
  ytick={-4,-2,0,2,4}, yticklabels={-4,-2,0,2,4}]
\addplot[wave] coordinates {(0,0.03) (18,0.03) (19,0.2) (20,0.5) (22,0.8) (24,1.02) (25.5,0.85) (27,0.95) (29,0.8) (31,0.85) (33,0.7) (35,0.65) (37,0.55) (40,0.5) (43,0.55) (46,0.45) (49,0.4) (52,0.45) (55,0.4) (58,0.35) (61,0.4) (64,0.35) (67,0.4) (70,0.35) (73,0.3) (76,0.35) (79,0.3) (82,0.35) (85,0.3) (88,0.35) (91,0.3) (94,0.35) (97,0.3) (100,0.35) (103,0.35) (106,0.4) (109,0.4) (111,0.5) (112,0.8) (113,1.6) (114.5,1.8) (116,2.4) (117,2.8) (118,3.34) (119,2.6) (120,2.2) (121,2.5) (122,2.86) (123,2.1) (124,1.8) (126,1.5) (128,1.2) (130,1.0) (132,1.1) (134,0.9) (136,0.85) (138,0.8) (140,0.7) (142,0.75) (143,0.93) (144.5,0.65) (147,0.6) (150,0.6) (153,0.55) (156,0.55) (159,0.5) (162,0.45) (165,0.5) (168,0.45) (171,0.5) (174,0.4) (177,0.45) (180,0.4) (183,0.35) (186,0.4) (189,0.35) (192,0.3) (195,0.35) (198,0.3) (201,0.3) (204,0.25) (207,0.3) (210,0.25) (213,0.25) (216,0.2) (219,0.25) (221,0.1)} \closedcycle;
\addplot[wave] coordinates {(0,-0.03) (18,-0.03) (19,-0.2) (21,-0.6) (23,-0.9) (25,-1.22) (26.5,-0.9) (28,-1.0) (30,-0.8) (32,-0.75) (34,-0.6) (36,-0.55) (38,-0.5) (41,-0.45) (44,-0.4) (47,-0.45) (50,-0.45) (53,-0.4) (56,-0.4) (59,-0.35) (62,-0.35) (65,-0.4) (68,-0.3) (71,-0.35) (74,-0.35) (77,-0.3) (80,-0.3) (83,-0.35) (86,-0.3) (89,-0.35) (92,-0.3) (95,-0.3) (98,-0.35) (101,-0.35) (104,-0.3) (107,-0.35) (110,-0.4) (111,-0.6) (112,-0.9) (113,-1.6) (114,-1.8) (115,-2.0) (116,-2.4) (117,-2.86) (118,-2.3) (119,-2.5) (120,-2.2) (121,-2.8) (122,-2.0) (123,-1.8) (125,-1.5) (127,-1.2) (129,-1.1) (131,-1.0) (133,-0.95) (135,-0.9) (137,-0.85) (139,-0.8) (141,-0.9) (142,-1.14) (143.5,-0.8) (146,-0.7) (149,-0.7) (152,-0.65) (155,-0.6) (158,-0.6) (161,-0.5) (164,-0.55) (167,-0.5) (170,-0.45) (173,-0.45) (176,-0.4) (179,-0.4) (182,-0.4) (186,-0.35) (190,-0.35) (194,-0.3) (198,-0.3) (202,-0.3) (206,-0.25) (210,-0.25) (214,-0.25) (218,-0.2) (221,-0.1)} \closedcycle;
\end{axis}

\begin{axis}[seisB, at={(949.4pt,-1202.6pt)}, width=223.5pt, xmin=0, xmax=250, ymin=-4, ymax=4,
  xtick={0,75,150,225}, xticklabels={0,75,150,225},
  ytick={-4,-2,0,2,4}, yticklabels={-4,-2,0,2,4}]
\addplot[wave] coordinates {(0,0.02) (18,0.02) (19,0.3) (20,0.8) (21,1.14) (22,0.85) (23,0.8) (24,0.9) (26,0.8) (28,0.7) (30,0.65) (32,0.6) (34,0.55) (37,0.55) (40,0.5) (43,0.55) (46,0.5) (49,0.45) (52,0.5) (55,0.45) (58,0.4) (61,0.45) (64,0.4) (67,0.4) (70,0.35) (73,0.4) (76,0.35) (79,0.35) (82,0.35) (85,0.35) (88,0.3) (91,0.35) (94,0.35) (97,0.3) (100,0.3) (103,0.35) (106,0.4) (108,0.45) (109,0.7) (110,1.0) (111,2.0) (112,3.91) (113,2.5) (114,2.8) (115,3.91) (116,2.6) (117,2.3) (118,2.0) (119,1.9) (120,2.0) (121,1.8) (122,1.5) (123,1.6) (125,1.4) (127,1.2) (129,1.3) (131,1.1) (133,1.15) (135,1.0) (137,1.2) (139,0.9) (141,1.0) (143,0.85) (145,0.8) (147,0.9) (149,0.75) (152,0.7) (155,0.65) (158,0.6) (161,0.55) (164,0.55) (167,0.5) (170,0.45) (173,0.5) (176,0.5) (179,0.4) (182,0.4) (185,0.4) (188,0.35) (191,0.35) (194,0.35) (197,0.35) (200,0.3) (204,0.3) (208,0.25) (212,0.3) (216,0.3) (220,0.25) (224,0.2) (228,0.2) (230,0.15)} \closedcycle;
\addplot[wave] coordinates {(0,-0.02) (18,-0.02) (19,-0.3) (20,-0.9) (21.5,-1.36) (23,-0.8) (24.5,-0.9) (26,-1.3) (27.5,-0.7) (29,-0.65) (31,-0.6) (34,-0.55) (37,-0.5) (40,-0.45) (43,-0.45) (46,-0.45) (49,-0.4) (52,-0.4) (55,-0.4) (58,-0.35) (61,-0.35) (64,-0.35) (67,-0.35) (70,-0.3) (73,-0.35) (76,-0.3) (79,-0.3) (82,-0.3) (85,-0.3) (88,-0.3) (91,-0.3) (94,-0.35) (97,-0.3) (100,-0.3) (103,-0.35) (106,-0.4) (108,-0.6) (109,-1.0) (110,-1.5) (111,-2.0) (111.5,-3.0) (112.5,-4.0) (113.5,-1.8) (114.5,-2.2) (115.5,-2.5) (116.5,-4.0) (117.5,-2.0) (119,-1.7) (120.5,-1.74) (122,-1.3) (123.5,-1.2) (125,-1.3) (127,-1.0) (129,-1.05) (131,-1.1) (133,-0.95) (134,-1.2) (135.5,-0.9) (138,-0.9) (141,-0.85) (144,-0.85) (147,-0.8) (150,-0.75) (152.5,-0.8) (154,-1.2) (155.5,-0.7) (158,-0.7) (161,-0.65) (164,-0.6) (167,-0.6) (170,-0.55) (173,-0.5) (176,-0.5) (180,-0.45) (184,-0.4) (188,-0.4) (192,-0.35) (196,-0.35) (200,-0.3) (204,-0.3) (208,-0.25) (212,-0.25) (216,-0.25) (220,-0.2) (224,-0.2) (228,-0.2) (230,-0.15)} \closedcycle;
\end{axis}

% ---------------- headings ----------------
\node[anchor=base west, font=\labfont\bfseries\fs{25}] at (22pt,-32pt) {(a)};
\node[anchor=base west, font=\bfseries\fs{25}] at (67pt,-32pt) {Mw 7.8 Gorkha Nepal earthquake and aftershock events};
\node[anchor=base west, font=\labfont\bfseries\fs{25}] at (25pt,-687pt) {(b)};
\node[anchor=base west, font=\bfseries\fs{25}] at (66pt,-687pt) {Mw 7.5 and other events of Hindu kush region};

% ---------------- event titles ----------------
\begin{scope}[every node/.style={anchor=base, font=\fs{18.5}}]
\node at (183pt,-69pt) {(1) M7.8, Dep: 15 km,};   \node at (190pt,-90pt) {Dist: 637.77 km};
\node at (451pt,-69pt) {(2) M6.6, Dep:14.6 km,};  \node at (443pt,-90pt) {Dist: 646.56 km};
\node at (699pt,-69pt) {(5) M6.7, Dep:17.3 km,};  \node at (697pt,-90pt) {Dist: 772.06 km};
\node at (947pt,-69pt) {(6) M7.3, Dep:15 km,};    \node at (948pt,-90pt) {Dist: 767.29 km};
\node at (1201pt,-69pt) {(7) M6.3, Dep:15 km,};   \node at (1205pt,-90pt) {Dist: 785.79 km};
\end{scope}
\begin{scope}[every node/.style={anchor=base, font=\fs{19}}]
\node at (190pt,-725pt) {(8) M7.5, Dep: 231 km,};   \node at (195pt,-749pt) {Dist: 1025.32 km};
\node at (472pt,-725pt) {(9) M5.7, Dep:102 km,};    \node at (475pt,-749pt) {Dist: 942.59 km};
\node at (768pt,-725pt) {(11) M6.3, Dep: 206 km,};  \node at (774pt,-749pt) {Dist: 962.83 km};
\node at (1055pt,-725pt) {(15) M6.6, Dep: 212 km,}; \node at (1060pt,-749pt) {Dist: 962.83 km};
\end{scope}

% ---------------- component labels ----------------
\begin{scope}[every node/.style={anchor=base, font=\fs{19.5}}]
\foreach \x in {254,509,765,1011,1273} {\node at (\x pt,-127pt) {N-S};}
\foreach \x in {254,511,766,1019,1275} {\node at (\x pt,-410pt) {E-W};}
\foreach \x in {287,541,828,1115} {\node at (\x pt,-794pt) {N-S};}
\foreach \x in {288,543,830,1117} {\node at (\x pt,-1054pt) {E-W};}
\end{scope}

% ---------------- axis titles ----------------
\begin{scope}[every node/.style={anchor=base, font=\fs{24.5}}]
\foreach \x in {199,485,687,937,1214} {\node at (\x pt,-347pt) {Time (sec)};}
\foreach \x in {199,465,675,937,1217} {\node at (\x pt,-646pt) {Time (sec)};}
\end{scope}
\begin{scope}[every node/.style={anchor=base, font=\fs{26}}]
\foreach \x in {201,501,786,1068} {\node at (\x pt,-990pt) {Time (sec)};}
\foreach \x in {211,497,789,1064} {\node at (\x pt,-1270pt) {Time (sec)};}
\end{scope}
\begin{scope}[every node/.style={rotate=90, font=\fs{30}}]
\node at (25pt,-183pt) {mg};
\node at (27pt,-469pt) {mg};
\node at (28pt,-832pt) {mg};
\node at (28pt,-1115pt) {mg};
\end{scope}
\end{tikzpicture}
\end{document}
